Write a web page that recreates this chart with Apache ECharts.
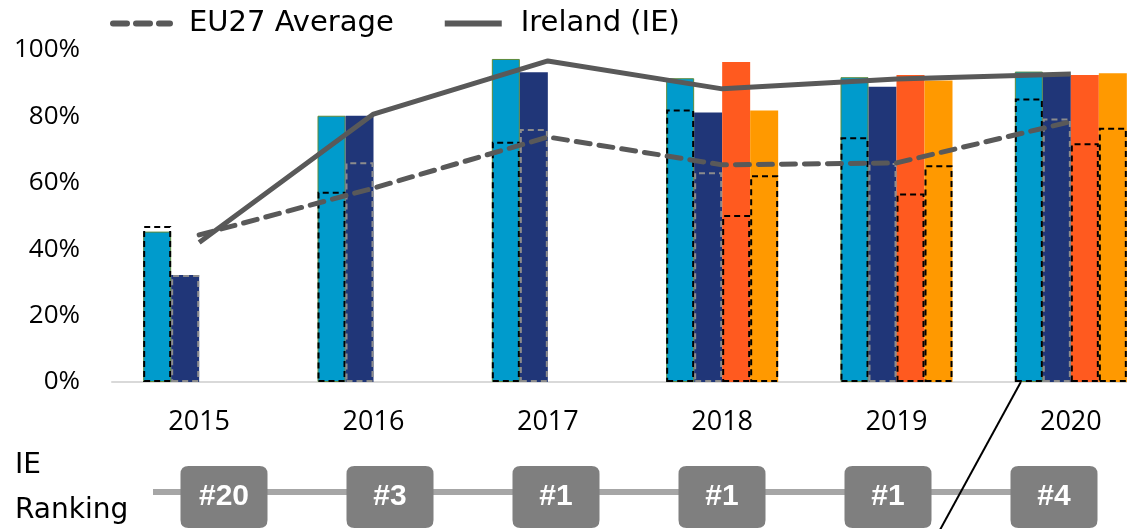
<!DOCTYPE html>
<html>
<head>
<meta charset="utf-8">
<script src="https://cdn.jsdelivr.net/npm/echarts@6/dist/echarts.min.js"></script>
<style>
  html, body { margin: 0; padding: 0; background: #fff; }
  #main { width: 1127px; height: 529px; }
</style>
</head>
<body>
<div id="main"></div>
<script>
var years = ['2015', '2016', '2017', '2018', '2019', '2020'];

// Ireland bars (filled)
var cyanVals = [45.3, 80.2, 97.3, 91.5, 91.8, 93.5];
var navyVals = [32.2, 80.2, 93.3, 81.2, 88.9, 92.2];
var orangeVals = [null, null, null, 96.4, 92.5, 92.5];
var amberVals = [null, null, null, 81.8, 90.8, 93.0];

// EU27 values per metric (dashed outlines)
var cyanEu = [47.0, 57.3, 72.4, 82.1, 73.7, 85.4];
var navyEu = [32.2, 66.2, 76.2, 63.2, 66.0, 79.4];
var orangeEu = [null, null, null, 50.3, 56.8, 71.9];
var amberEu = [null, null, null, 62.3, 65.3, 76.6];

// overall lines
var irelandLine = [42.0, 80.7, 96.7, 88.3, 91.3, 92.8];
var eu27Line = [44.3, 58.4, 73.8, 65.4, 66.0, 78.4];

var ranks = ['#20', '#3', '#1', '#1', '#1', '#4'];
var rankRow = [0.5, 0.5, 0.5, 0.5, 0.5, 0.5];
var rankLink = [0.58, 0.58, 0.58, 0.58, 0.58, 0.58];

var chart = echarts.init(document.getElementById('main'));

function fillBar(name, data, color, extra) {
  var s = {
    name: name, type: 'bar', xAxisIndex: 0, yAxisIndex: 0,
    data: data, barWidth: 28, barGap: '0%', z: 2,
    itemStyle: { color: color }
  };
  if (extra) Object.assign(s.itemStyle, extra);
  return s;
}
function outlineBar(name, data, border) {
  return {
    name: name, type: 'bar', xAxisIndex: 1, yAxisIndex: 0,
    data: data, barWidth: 28, barGap: '0%', z: 3, silent: true,
    itemStyle: { color: 'rgba(0,0,0,0)', borderColor: border, borderWidth: 2, borderType: [6, 4] }
  };
}

// rounded box with a small corner radius
var boxPath = 'path://M8,0 H79 Q87,0 87,8 V54 Q87,62 79,62 H8 Q0,62 0,54 V8 Q0,0 8,0 Z';

var option = {
  animation: false,
  backgroundColor: '#fff',
  legend: {
    data: ['EU27 Average', 'Ireland (IE)'],
    left: 105, top: 4,
    itemWidth: 57, itemHeight: 14, itemGap: 48,
    itemStyle: { opacity: 0 },
    lineStyle: { width: 6 },
    textStyle: { fontSize: 29, color: '#000', fontFamily: 'DejaVu Sans', padding: [0, 0, 0, 14] }
  },
  grid: [
    { left: 112, width: 1046, top: 50, bottom: 147, outerBoundsMode: 'none' },
    { left: 141, width: 996, top: 466, height: 62, outerBoundsMode: 'none' }
  ],
  xAxis: [
    {
      type: 'category', data: years, gridIndex: 0,
      axisLine: { lineStyle: { color: '#d9d9d9', width: 2 } },
      axisTick: { show: false },
      axisLabel: { fontSize: 27, color: '#000', margin: 27, fontFamily: 'Open Sans' }
    },
    { type: 'category', data: years, gridIndex: 0, show: false },
    { type: 'category', data: years, gridIndex: 1, show: false }
  ],
  yAxis: [
    {
      type: 'value', min: 0, max: 100, interval: 20, gridIndex: 0,
      axisLine: { show: false }, axisTick: { show: false }, splitLine: { show: false },
      axisLabel: { formatter: '{value}%', fontSize: 26, color: '#000', margin: 32, fontFamily: 'Open Sans' }
    },
    { type: 'value', min: 0, max: 1, gridIndex: 1, show: false }
  ],
  series: [
    fillBar('m1', cyanVals, '#009bcc', { borderColor: '#5f8a3a', borderWidth: 1 }),
    fillBar('m2', navyVals, '#203678'),
    fillBar('m3', orangeVals, '#ff5a1f'),
    fillBar('m4', amberVals, '#ff9900'),
    outlineBar('e1', cyanEu, '#000'),
    outlineBar('e2', navyEu, '#8c8c8c'),
    outlineBar('e3', orangeEu, '#000'),
    outlineBar('e4', amberEu, '#000'),
    {
      name: 'EU27 Average', type: 'line', xAxisIndex: 0, yAxisIndex: 0,
      data: eu27Line, symbol: 'none', z: 5,
      lineStyle: { color: '#595959', width: 5, type: [14, 9], cap: 'round' },
      itemStyle: { color: '#595959' }
    },
    {
      name: 'Ireland (IE)', type: 'line', xAxisIndex: 0, yAxisIndex: 0,
      data: irelandLine, symbol: 'none', z: 5,
      lineStyle: { color: '#595959', width: 5 },
      itemStyle: { color: '#595959' }
    },
    {
      name: 'rankLink', type: 'line', xAxisIndex: 2, yAxisIndex: 1,
      data: rankLink, symbol: 'none', z: 1, silent: true,
      lineStyle: { color: '#a6a6a6', width: 6 }
    },
    {
      name: 'rank', type: 'scatter', xAxisIndex: 2, yAxisIndex: 1,
      data: rankRow, symbol: boxPath, symbolSize: [87, 62], symbolKeepAspect: false, z: 4,
      itemStyle: { color: '#7f7f7f', opacity: 1 },
      label: {
        show: true, position: 'inside',
        formatter: function (p) { return ranks[p.dataIndex]; },
        color: '#fff', fontSize: 30, fontWeight: 'bold', fontFamily: 'Liberation Sans'
      }
    }
  ]
};
chart.setOption(option);

// annotations positioned from the axes
var rankStart = chart.convertToPixel({ gridIndex: 1 }, [0, rankLink[0]]);
var base2020 = chart.convertToPixel({ gridIndex: 0 }, [5, 0]);
chart.setOption({
  graphic: [
    { type: 'line', shape: { x1: 153, y1: rankStart[1], x2: rankStart[0], y2: rankStart[1] },
      style: { stroke: '#a6a6a6', lineWidth: 6 }, z: 1 },
    { type: 'line', shape: { x1: base2020[0] - 50, y1: base2020[1], x2: base2020[0] - 132, y2: base2020[1] + 150 },
      style: { stroke: '#000', lineWidth: 2 }, z: 10 },
    { type: 'text', left: 15, top: 452, style: { text: 'IE', fontSize: 28, fill: '#000', fontFamily: 'DejaVu Sans' } },
    { type: 'text', left: 15, top: 497, style: { text: 'Ranking', fontSize: 28, fill: '#000', fontFamily: 'DejaVu Sans' } }
  ]
});
</script>
</body>
</html>
